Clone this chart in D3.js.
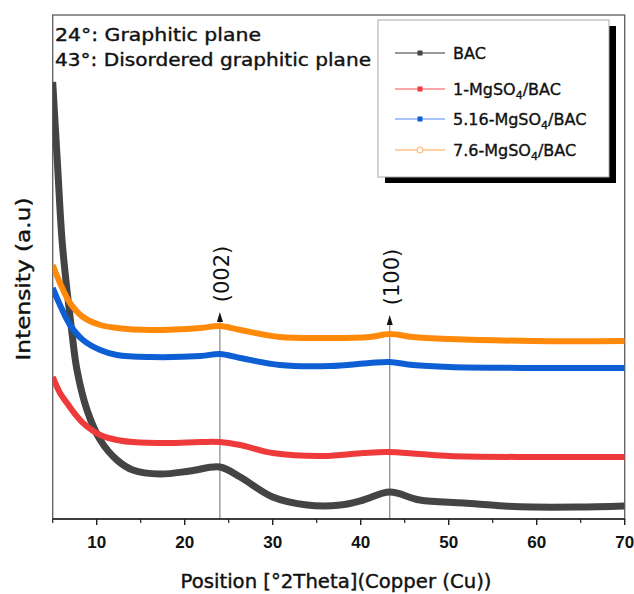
<!DOCTYPE html>
<html><head><meta charset="utf-8">
<script src="https://cdn.jsdelivr.net/npm/d3@7/dist/d3.min.js"></script>
<style>body{margin:0;background:#fff}svg{display:block}</style>
</head><body>
<script>
// ---- data ----
const seriesNames = ["BAC", "1-MgSO4/BAC", "5.16-MgSO4/BAC", "7.6-MgSO4/BAC"];
const xBAC   = [5.0,5.55,6.06,6.62,7.19,7.76,8.9,10.4,12.3,14.1,17.2,20.6,24.0,26.3,30.0,33.9,37.7,40.3,43.3,46.7,51.7,56.3,59.5,64.6,70.0];
const yBAC   = [437,354,279,229,186,149,109,79,59,49,45,48,52,42,22,14,14,19,27,19,16,13,12,12,13];
const xMg1   = [5.0,5.83,6.62,7.53,8.44,10.4,12.3,14.1,18.0,21.8,24.0,26.3,30.0,35.7,40.3,43.0,46.7,50.1,59.6,70.0];
const yMg1   = [142,126,116,105,96,84,79,77,76,77,77,74,66,63,66,67,65,63,62,62];
const xMg516 = [5.0,5.83,6.97,8.44,10.4,12.3,16.05,21.8,24.0,26.3,30.8,36.5,41.0,43.3,45.9,50.1,59.6,70.0];
const yMg516 = [231,214,194,179,169,164,162,163,165,161,154,153,156,157,154,152,151,151];
const xMg76  = [5.0,5.83,6.97,8.44,10.4,12.3,16.05,21.8,24.0,26.3,30.8,36.5,41.0,43.3,45.9,50.1,59.6,70.0];
const yMg76  = [254,236,216,202,194,191,189,191,193,189,182,181,182,185,182,180,178,178];
const xTicks = [10,20,30,40,50,60,70];
const xMinorTicks = [5,15,25,35,45,55,65];
const peakX = [24.0, 43.3];
const peakLabels = ["(002)", "(100)"];
const peakTipY = [207, 204];   // intensity at arrow tips (a.u.)
const notes = ["24°: Graphitic plane", "43°: Disordered graphitic plane"];

const colors = ["#444444", "#ee3a3a", "#0f5fd4", "#ff8a0a"];
const legendLineColors = ["#777777", "#ff8a8a", "#8ab0ff", "#ffc080"];

// ---- layout ----
const W = 634, H = 594;
const L = 52.7, R = 624.7, T = 15, B = 519;
const x = d3.scaleLinear().domain([5, 70]).range([L, R]);
const y = d3.scaleLinear().domain([0, 504]).range([B, T]);

const svg = d3.select("body").append("svg").attr("width", W).attr("height", H);
const comic = "'DejaVu Sans', sans-serif";

svg.append("defs").append("clipPath").attr("id", "clip")
  .append("rect").attr("x", L).attr("y", T).attr("width", R - L).attr("height", B - T);

// frame
svg.append("rect").attr("x", L).attr("y", T).attr("width", R - L).attr("height", B - T)
  .attr("fill", "none").attr("stroke", "#666").attr("stroke-width", 1.4);

// peak marker lines + arrows
peakX.forEach((px, i) => {
  const xx = x(px), tip = y(peakTipY[i]);
  svg.append("line").attr("x1", xx).attr("x2", xx).attr("y1", B).attr("y2", tip + 8)
    .attr("stroke", "#888").attr("stroke-width", 1.2);
  svg.append("path").attr("d", `M${xx},${tip} L${xx - 3},${tip + 10} L${xx + 3},${tip + 10} Z`).attr("fill", "#111");
  svg.append("text").attr("transform", `translate(${xx + 2},${tip - 38}) rotate(-90)`)
    .attr("text-anchor", "middle").attr("dominant-baseline", "central")
    .attr("font-family", "'DejaVu Sans', sans-serif").attr("font-size", 21).attr("fill", "#111")
    .text(peakLabels[i]);
});

// curves
const allX = [xBAC, xMg1, xMg516, xMg76], allY = [yBAC, yMg1, yMg516, yMg76];
const line = d3.line().x(d => x(d[0])).y(d => y(d[1])).curve(d3.curveCatmullRom.alpha(0.5));
const g = svg.append("g").attr("clip-path", "url(#clip)");
allX.forEach((xs, i) => {
  const pts = xs.map((v, j) => [v, allY[i][j]]);
  g.append("path").datum(pts).attr("d", line).attr("fill", "none")
    .attr("stroke", colors[i]).attr("stroke-width", i === 0 ? 7 : 6)
    .attr("stroke-linejoin", "round");
});

// x axis
const ax = svg.append("g").attr("transform", `translate(0,${B})`);
ax.append("line").attr("x1", L).attr("x2", R).attr("stroke", "#222").attr("stroke-width", 1.6);
xTicks.forEach(t => {
  ax.append("line").attr("x1", x(t)).attr("x2", x(t)).attr("y1", 0).attr("y2", 6).attr("stroke", "#222").attr("stroke-width", 1.4);
  ax.append("text").attr("x", x(t)).attr("y", 29).attr("text-anchor", "middle")
    .attr("font-family", "'Liberation Sans', Arial, sans-serif").attr("font-weight", "bold").attr("font-size", 17)
    .attr("fill", "#111").text(t);
});
xMinorTicks.forEach(t => {
  ax.append("line").attr("x1", x(t)).attr("x2", x(t)).attr("y1", 0).attr("y2", 4).attr("stroke", "#222").attr("stroke-width", 1.2);
});

// axis titles
svg.append("text").attr("x", 336).attr("y", 588).attr("text-anchor", "middle")
  .attr("font-family", comic).attr("font-size", 19).attr("fill", "#111")
  .attr("stroke", "#111").attr("stroke-width", 0.4)
  .attr("textLength", 311).attr("lengthAdjust", "spacingAndGlyphs")
  .text("Position [°2Theta](Copper (Cu))");
svg.append("text").attr("transform", "translate(23,279) rotate(-90)")
  .attr("text-anchor", "middle").attr("dominant-baseline", "central")
  .attr("font-family", comic).attr("font-size", 20).attr("fill", "#111")
  .attr("stroke", "#111").attr("stroke-width", 0.4)
  .attr("textLength", 163).attr("lengthAdjust", "spacingAndGlyphs")
  .text("Intensity (a.u)");

// notes
const noteLen = [206, 316];
notes.forEach((n, i) => {
  svg.append("text").attr("x", 55).attr("y", 41 + i * 25)
    .attr("font-family", comic).attr("font-size", 18).attr("fill", "#111")
    .attr("stroke", "#111").attr("stroke-width", 0.4)
    .attr("textLength", noteLen[i]).attr("lengthAdjust", "spacingAndGlyphs").text(n);
});

// legend
const lg = svg.append("g");
lg.append("rect").attr("x", 385).attr("y", 26).attr("width", 231).attr("height", 157).attr("fill", "#000");
lg.append("rect").attr("x", 378).attr("y", 20).attr("width", 231).attr("height", 157)
  .attr("fill", "#fff").attr("stroke", "#aaa").attr("stroke-width", 1);
const rowY = [53, 89, 119, 150];
seriesNames.forEach((s, i) => {
  const yy = rowY[i];
  lg.append("line").attr("x1", 395).attr("x2", 445).attr("y1", yy).attr("y2", yy)
    .attr("stroke", legendLineColors[i]).attr("stroke-width", 1.3);
  if (i === 3) {
    lg.append("circle").attr("cx", 420).attr("cy", yy).attr("r", 2.8).attr("fill", "#fff").attr("stroke", legendLineColors[i]).attr("stroke-width", 1.2);
  } else {
    lg.append("rect").attr("x", 417.5).attr("y", yy - 2.5).attr("width", 5).attr("height", 5).attr("fill", colors[i]);
  }
  const t = lg.append("text").attr("x", 453).attr("y", yy + 6)
    .attr("font-family", comic).attr("font-size", 16).attr("fill", "#111")
    .attr("stroke", "#111").attr("stroke-width", 0.35);
  const m = s.match(/^(.*MgSO)4(.*)$/);
  if (m) {
    t.append("tspan").text(m[1]);
    t.append("tspan").attr("font-size", 11).attr("dy", 4).text("4");
    t.append("tspan").attr("dy", -4).text(m[2]);
  } else t.text(s);
});
</script>
</body></html>
